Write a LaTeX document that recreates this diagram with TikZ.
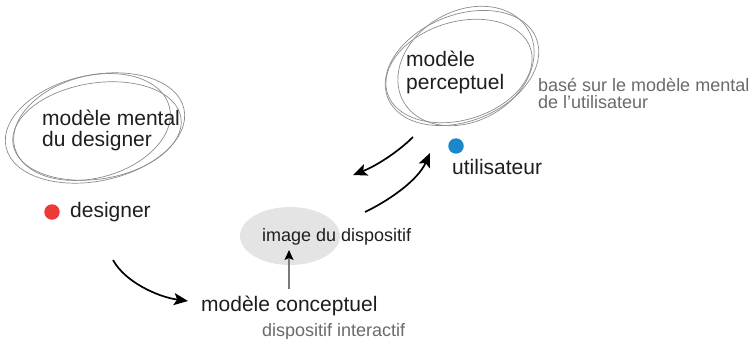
\documentclass[tikz,border=0pt]{standalone}
\usepackage{fontspec}
\setmainfont{Liberation Sans}
\usetikzlibrary{arrows.meta,shapes.geometric}
\definecolor{txt}{HTML}{1E1E1E}
\definecolor{gtxt}{HTML}{6A6A6A}
\definecolor{scrib}{HTML}{8C8C8C}
\definecolor{reddot}{HTML}{EE3A36}
\definecolor{bluedot}{HTML}{1B88CC}
\definecolor{imgfill}{HTML}{E4E4E4}
\definecolor{garrow}{HTML}{7A7A7A}
\begin{document}
\begin{tikzpicture}[x=1pt,y=-1pt,
  lbl/.style={anchor=base west,inner sep=0,text=txt,font=\fontsize{21}{24}\selectfont},
  sub/.style={anchor=base west,inner sep=0,text=gtxt,font=\fontsize{18}{20}\selectfont},
  scribble/.style={draw=scrib,line width=0.7pt},
  flow/.style={draw=black,line width=1.7pt,-{Stealth[length=14pt,width=12pt,inset=3pt]}},
  dot/.style={circle,inner sep=0,minimum size=15.5pt},
]
\useasboundingbox (0,0) rectangle (754,339);

% left scribble (modèle mental du designer)
\draw[scribble,rotate around={12:(95,128)}] (95,128) ellipse [x radius=91,y radius=53];
\draw[scribble,rotate around={9:(97,131)}] (97,131) ellipse [x radius=85,y radius=48];
\draw[scribble,rotate around={15:(92,127)}] (92,127) ellipse [x radius=80,y radius=51];

% right scribble (modèle perceptuel)
\draw[scribble,rotate around={22:(462,68)}] (462,68) ellipse [x radius=80,y radius=53];
\draw[scribble,rotate around={17:(459,71)}] (459,71) ellipse [x radius=75,y radius=49];
\draw[scribble,rotate around={30:(466,66)}] (466,66) ellipse [x radius=72,y radius=55];

% image du dispositif
\node[ellipse,fill=imgfill,minimum width=100pt,minimum height=58pt,inner sep=0] (img) at (290,236) {};

% texts
\node[lbl] (mm1) at (42,126) {modèle mental};
\node[lbl] (mm2) at (42,147) {du designer};
\node[dot,fill=reddot] (rdot) at (52,212) {};
\node[lbl] (des) at (70,217) {designer};

\node[lbl] (mp1) at (406,67) {modèle};
\node[lbl] (mp2) at (406,90) {perceptuel};
\node[sub] (bs1) at (538,92) {basé sur le modèle mental};
\node[sub] (bs2) at (538,108.5) {de l’utilisateur};
\node[dot,fill=bluedot] (bdot) at (456,146) {};
\node[lbl] (uti) at (452,175) {utilisateur};

\node[anchor=base west,inner sep=0,text=txt,font=\fontsize{18}{20}\selectfont] (imgt) at (262,241.5) {image du dispositif};

\node[lbl] (mc) at (201,311) {modèle conceptuel};
\node[sub] (di) at (262,336) {dispositif interactif};

% connector end points
\coordinate (a1s) at (413,137);
\coordinate (a1e) at (353,175);
\coordinate (a2s) at (365,212);
\coordinate (a2e) at (430,153);
\coordinate (a3s) at (113,260);
\coordinate (a3e) at (188,301);
\coordinate (g1s) at (289,289);
\coordinate (g1e) at (289,250);

\draw[flow] (a1s) .. controls (398,152) and (376,166) .. (a1e);
\draw[flow] (a2s) .. controls (390,200) and (418,180) .. (a2e);
\draw[flow] (a3s) .. controls (125,282) and (158,297) .. (a3e);
\draw[draw=garrow,line width=1.2pt,-{Stealth[length=10pt,width=9pt,inset=2pt,color=black,fill=black]}] (g1s) -- (g1e);
\end{tikzpicture}
\end{document}
